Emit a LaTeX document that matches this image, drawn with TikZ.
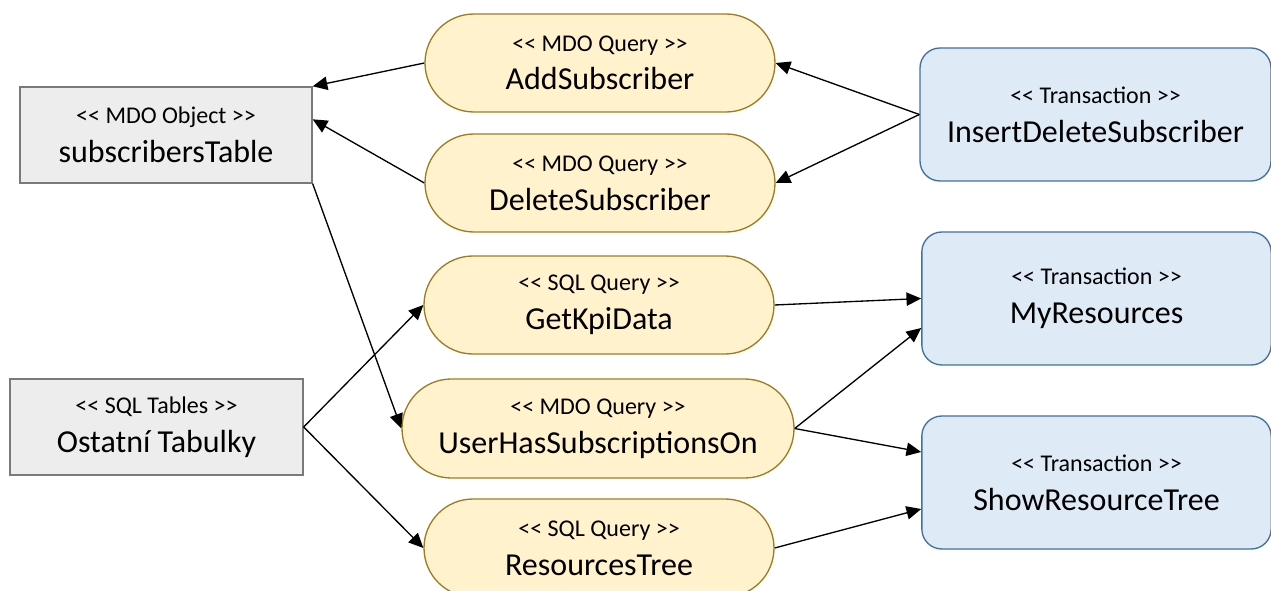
\documentclass[tikz,border=0pt]{standalone}
\usepackage{fontspec}
\setmainfont{Carlito}
\usetikzlibrary{arrows.meta,calc}

\definecolor{grayfill}{HTML}{EDEDED}
\definecolor{grayline}{HTML}{7A7A7A}
\definecolor{queryfill}{HTML}{FFF2CC}
\definecolor{queryline}{HTML}{9E7D22}
\definecolor{txfill}{HTML}{DEEBF7}
\definecolor{txline}{HTML}{41719C}

% stereotype line (small) above the element name (large); the kerns keep
% "<<" and ">>" from turning into guillemets
\newcommand{\stereo}[2]{{\fontsize{18}{22}\selectfont <\kern0pt< #1 >\kern0pt>}\\#2}

\tikzset{
  basebox/.style={line width=1pt, inner sep=0pt, align=center,
    font=\fontsize{24}{29}\selectfont},
  tablebox/.style={basebox, draw=grayline, fill=grayfill,
    minimum width=219pt, minimum height=72pt},
  querybox/.style={basebox, draw=queryline, fill=queryfill,
    minimum width=262.5pt, minimum height=73.5pt, rounded corners=36.75pt},
  txbox/.style={basebox, draw=txline, fill=txfill,
    minimum width=262pt, minimum height=99.75pt, rounded corners=15pt},
  link/.style={draw=black, line width=1pt, -{Triangle[length=11pt,width=10pt]}}
}

\begin{document}
\begin{tikzpicture}[x=0.75pt,y=-0.75pt]
\useasboundingbox (0,0) rectangle (1271,591);

% sources
\node[tablebox] (subT) at (166,135) {\stereo{MDO Object}{subscribersTable}};
\node[tablebox, minimum width=219.75pt] (ostT) at (156.5,427) {\stereo{SQL Tables}{Ostatní Tabulky}};

% queries
\node[querybox] (add) at (600,63) {\stereo{MDO Query}{AddSubscriber}};
\node[querybox] (del) at (600,183) {\stereo{MDO Query}{DeleteSubscriber}};
\node[querybox] (kpi) at (599,305) {\stereo{SQL Query}{GetKpiData}};
\node[querybox, minimum width=294pt, minimum height=74.25pt, rounded corners=37pt] (uhs) at (598,428.5) {\stereo{MDO Query}{UserHasSubscriptionsOn}};
\node[querybox] (rtree) at (599,548) {\stereo{SQL Query}{ResourcesTree}};

% transactions
\node[txbox, minimum width=263.25pt] (ids) at (1095.5,114.5) {\stereo{Transaction}{InsertDeleteSubscriber}};
\node[txbox] (myr) at (1096.5,298.5) {\stereo{Transaction}{MyResources}};
\node[txbox] (srt) at (1096.5,482.5) {\stereo{Transaction}{ShowResourceTree}};

% connectors
\draw[link] (add.west) -- (subT.north east);
\draw[link] (del.west) -- ($(subT.north east)+(0,33)$);
\draw[link] (ids.west) -- (add.east);
\draw[link] (ids.west) -- (del.east);
\draw[link] (subT.south east) -- (uhs.west);
\draw[link] (ostT.east) -- (kpi.west);
\draw[link] (ostT.east) -- (rtree.west);
\draw[link] (kpi.east) -- (myr.west);
\draw[link] (uhs.east) -- ($(myr.west)+(0,29.5)$);
\draw[link] (uhs.east) -- ($(srt.west)+(0,-30.5)$);
\draw[link] (rtree.east) -- ($(srt.west)+(0,26.5)$);
\end{tikzpicture}
\end{document}
